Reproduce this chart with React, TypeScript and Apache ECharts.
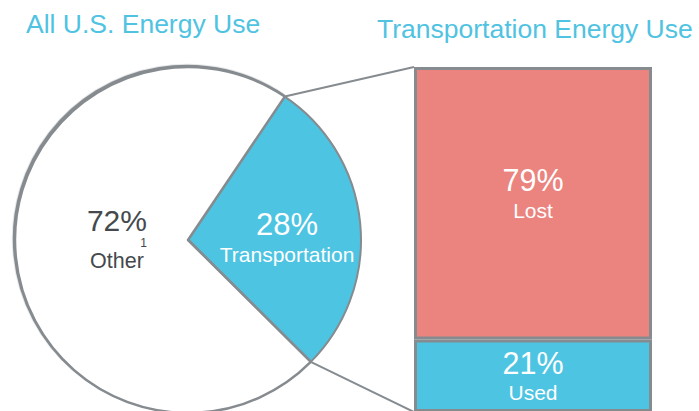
import React, { useEffect, useRef } from 'react';
import * as echarts from 'echarts';

const pieNames = ['Transportation', 'Other'];
const pieValues = [28, 72];
const barCategories = ['Transportation'];
const usedValues = [21];
const lostValues = [79];
const titleTexts = ['All U.S. Energy Use', 'Transportation Energy Use'];
const footnoteMark = '1';

const BLUE = '#4dc4e2';
const RED = '#eb837f';
const GRAY = '#868b90';
const DARK = '#45494d';
const TITLE = '#4fc3e1';
const FONT = '"Liberation Sans", Arial, Helvetica, sans-serif';

export default function App() {
  const ref = useRef<HTMLDivElement>(null);
  useEffect(() => {
    if (!ref.current) return;
    const chart = echarts.init(ref.current, null, { renderer: 'svg' });
    const cx = 188, cy = 240, r = 173, start = 56;
    const total = pieValues.reduce((a, b) => a + b, 0);
    const end = start - (360 * pieValues[0]) / total;
    const rad = (d: number) => (d * Math.PI) / 180;
    const p1 = [cx + r * Math.cos(rad(start)), cy - r * Math.sin(rad(start))];
    const p2 = [cx + r * Math.cos(rad(end)), cy - r * Math.sin(rad(end))];
    const grid = { left: 414, top: 67, width: 238, height: 345 };

    const pieRich = {
      big: { fontSize: 31, lineHeight: 32, color: '#fff', fontFamily: FONT },
      small: { fontSize: 21, lineHeight: 28, color: '#fff', fontFamily: FONT },
      bigD: { fontSize: 30, lineHeight: 30, color: DARK, fontFamily: FONT },
      supD: { fontSize: 12, lineHeight: 14, color: DARK, fontFamily: FONT, align: 'right' },
      smallD: { fontSize: 21.5, lineHeight: 22, color: DARK, fontFamily: FONT },
    };

    const barRich = {
      big: { fontSize: 30.5, lineHeight: 30, color: '#fff', fontFamily: FONT },
      small: { fontSize: 21, lineHeight: 30, color: '#fff', fontFamily: FONT },
    };

    chart.setOption({
      animation: false,
      title: [
        {
          text: titleTexts[0],
          left: 26,
          top: 10,
          padding: 0,
          textStyle: { fontSize: 26.5, fontWeight: 'normal', color: TITLE, fontFamily: FONT },
        },
        {
          text: titleTexts[1],
          left: 377,
          top: 15,
          padding: 0,
          textStyle: { fontSize: 26.5, fontWeight: 'normal', color: TITLE, fontFamily: FONT },
        },
      ],
      grid: { ...grid, containLabel: false, outerBoundsMode: 'none' },
      xAxis: { type: 'category', data: barCategories, show: false },
      yAxis: { type: 'value', min: 0, max: 100, show: false },
      graphic: [
        {
          type: 'line',
          z: 0,
          shape: { x1: p1[0], y1: p1[1], x2: grid.left, y2: grid.top },
          style: { stroke: GRAY, lineWidth: 2 },
        },
        {
          type: 'line',
          z: 0,
          shape: { x1: p2[0], y1: p2[1], x2: grid.left, y2: grid.top + grid.height },
          style: { stroke: GRAY, lineWidth: 2 },
        },
      ],
      series: [
        {
          type: 'pie',
          silent: true,
          center: [cx, cy],
          radius: r,
          startAngle: start,
          clockwise: true,
          avoidLabelOverlap: false,
          z: 3,
          label: { show: true, position: 'inside' },
          labelLine: { show: false },
          labelLayout: (params: any) =>
            params.dataIndex === 0 ? { dx: 10, dy: 7 } : { dx: 18, dy: -10 },
          data: [
            {
              name: pieNames[0],
              value: pieValues[0],
              itemStyle: { color: BLUE, borderColor: GRAY, borderWidth: 2 },
              label: {
                formatter: (p: any) => `{big|${p.value}%}\n{small|${p.name}}`,
                rich: pieRich,
              },
            },
            {
              name: pieNames[1],
              value: pieValues[1],
              itemStyle: {
                color: '#ffffff',
                borderColor: GRAY,
                borderWidth: 2.5,
                shadowColor: GRAY,
                shadowBlur: 0.5,
                shadowOffsetX: -1.2,
                shadowOffsetY: -1.2,
              },
              label: {
                formatter: (p: any) =>
                  `{bigD|${p.value}%}\n{supD|${footnoteMark}}\n{smallD|${p.name}}`,
                rich: pieRich,
              },
            },
          ],
        },
        {
          type: 'bar',
          name: 'Used',
          stack: 'total',
          silent: true,
          clip: false,
          barWidth: '100%',
          data: usedValues,
          itemStyle: { color: BLUE, borderColor: GRAY, borderWidth: 3 },
          label: {
            show: true,
            position: 'inside',
            offset: [0, 2],
            formatter: (p: any) => `{big|${p.value}%}\n{small|${p.seriesName}}`,
            rich: barRich,
          },
        },
        {
          type: 'bar',
          name: 'Lost',
          stack: 'total',
          silent: true,
          clip: false,
          barWidth: '100%',
          data: lostValues,
          itemStyle: { color: RED, borderColor: GRAY, borderWidth: 3 },
          label: {
            show: true,
            position: 'inside',
            offset: [0, -8],
            formatter: (p: any) => `{big|${p.value}%}\n{small|${p.seriesName}}`,
            rich: barRich,
          },
        },
      ],
    });
    return () => chart.dispose();
  }, []);
  return (
    <div
      ref={ref}
      style={{ position: 'fixed', left: 0, top: 0, width: 699, height: 411, background: '#fff' }}
    />
  );
}
